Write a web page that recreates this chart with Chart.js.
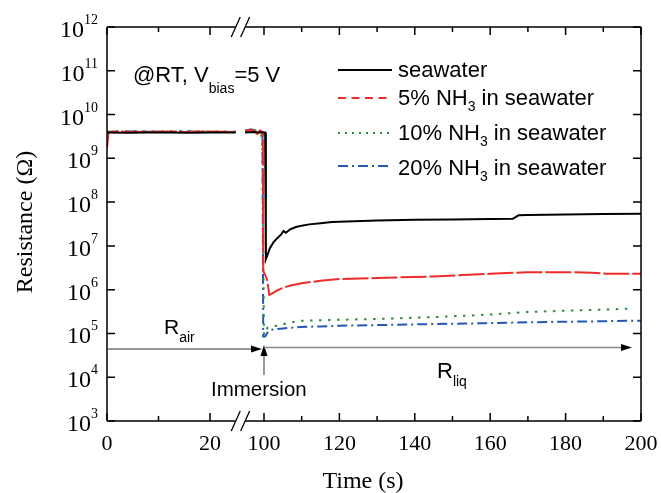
<!DOCTYPE html>
<html><head><meta charset="utf-8">
<script src="https://cdn.jsdelivr.net/npm/chart.js@4.4.0/dist/chart.umd.min.js"></script>
<style>html,body{margin:0;padding:0;background:#fff;}#wrap{width:661px;height:493px;}</style>
</head><body><div id="wrap"><canvas id="c" width="661" height="493"></canvas></div>
<script>
// ---------- data (time in s, resistance in ohm) ----------
const seawaterT = [0, 4, 8, 12, 16, 20, 25, 95, 97, 99, 100.3, 100.5, 101, 101.6, 102.5, 103.5, 104.5, 105.2, 105.8, 107, 108.5, 110, 112, 115, 118, 122, 130, 140, 150, 160, 166, 167.5, 170, 180, 190, 200];
const seawaterR = [3.9e9, 3.85e9, 3.9e9, 3.9e9, 3.85e9, 3.9e9, 3.9e9, 3.9e9, 4.0e9, 3.9e9, 3.9e9, 5e6, 6.5e6, 9e6, 1.2e7, 1.5e7, 1.8e7, 2.2e7, 2.0e7, 2.4e7, 2.7e7, 2.9e7, 3.1e7, 3.3e7, 3.5e7, 3.6e7, 3.8e7, 3.95e7, 4.0e7, 4.1e7, 4.15e7, 5.0e7, 5.1e7, 5.2e7, 5.35e7, 5.4e7];
const nh3_5T = [0, 0.3, 1, 5, 10, 15, 20, 25, 95, 96.5, 97.5, 98.2, 99, 99.7, 99.8, 100.3, 100.9, 101.4, 102, 103.4, 105, 107, 110, 115, 120, 130, 145, 160, 170, 180, 187, 191, 200];
const nh3_5R = [1.7e9, 3.9e9, 4.1e9, 4.0e9, 4.1e9, 4.0e9, 4.1e9, 4.0e9, 4.2e9, 4.5e9, 4.2e9, 3.6e9, 4.3e9, 4.0e9, 2.6e6, 2.2e6, 1.6e6, 7.6e5, 8e5, 9.5e5, 1.1e6, 1.25e6, 1.4e6, 1.6e6, 1.75e6, 1.85e6, 2.0e6, 2.3e6, 2.5e6, 2.5e6, 2.45e6, 2.3e6, 2.3e6];
const nh3_10T = [0, 5, 10, 15, 20, 25, 95, 97, 98.5, 99.2, 99.5, 99.7, 100, 100.4, 101, 102, 103.5, 106, 109.6, 115, 120, 130, 145, 160, 170, 180, 190, 197.5];
const nh3_10R = [4.1e9, 4.2e9, 4.1e9, 4.2e9, 4.1e9, 4.1e9, 4.3e9, 4.5e9, 4.2e9, 3.8e9, 2.5e9, 1e8, 9.3e4, 1.2e5, 1.35e5, 1.45e5, 1.5e5, 1.7e5, 1.95e5, 2.0e5, 2.05e5, 2.15e5, 2.36e5, 2.7e5, 3.1e5, 3.3e5, 3.5e5, 3.7e5];
const nh3_20T = [0, 5, 10, 15, 20, 25, 95, 96.5, 98, 99.3, 99.6, 99.8, 100.3, 101, 101.7, 103, 105, 109.6, 115, 120, 130, 145, 160, 170, 180, 190, 200];
const nh3_20R = [4.0e9, 4.1e9, 4.0e9, 4.1e9, 4.0e9, 4.0e9, 4.2e9, 4.6e9, 4.3e9, 4.2e9, 4.0e9, 8.5e4, 8.5e4, 1.05e5, 1.2e5, 1.25e5, 1.3e5, 1.4e5, 1.45e5, 1.5e5, 1.55e5, 1.64e5, 1.72e5, 1.8e5, 1.85e5, 1.9e5, 1.96e5];

const seriesLabels = ['seawater', '5% NH', '10% NH', '20% NH'];
const xMajorTicks = [0, 20, 100, 120, 140, 160, 180, 200];
const xMinorTicks = [10, 110, 130, 150, 170, 190];
const yDecades = [3, 4, 5, 6, 7, 8, 9, 10, 11, 12];

// ---------- broken x axis: 0–25 | 95–200 ----------
const LEFT_END = 25, RIGHT_START = 95;
const LEFT_STRETCH = 1.366;      // left segment is drawn wider per second
const RIGHT_OFFSET = 41.64;      // virtual position of t = 100
function xv(t) { return t <= 50 ? t * LEFT_STRETCH : RIGHT_OFFSET + (t - 100); }

function build(T, R) {
  const pts = [];
  for (let i = 0; i < T.length; i++) {
    if (i > 0 && T[i - 1] <= LEFT_END && T[i] >= RIGHT_START) pts.push({x: xv(T[i - 1]) + 0.01, y: null});
    pts.push({x: xv(T[i]), y: R[i]});
  }
  return pts;
}

const colors = ['#000000', '#ef2b2b', '#2f8b3f', '#2357b9'];
const legendDashes = [[], [8, 5.5], [2, 5], [10, 4, 2, 4]];
const dataDashes = [[], [26, 3], [2.5, 6.5], [10, 4, 2, 4]];
const seriesData = [[seawaterT, seawaterR], [nh3_5T, nh3_5R], [nh3_10T, nh3_10R], [nh3_20T, nh3_20R]];

const SANS = '"Liberation Sans", Arial, sans-serif';
const SERIF = '"Liberation Serif", "Times New Roman", serif';

function rich(ctx, parts, x, y) {
  let cx = x;
  for (const p of parts) {
    ctx.font = p.f;
    ctx.fillText(p.t, cx, y + (p.dy || 0));
    cx += ctx.measureText(p.t).width;
  }
}

function arrowHead(ctx, tx, ty, dir) {
  ctx.beginPath();
  if (dir === 'right') { ctx.moveTo(tx, ty); ctx.lineTo(tx - 11, ty - 3.5); ctx.lineTo(tx - 11, ty + 3.5); }
  else { ctx.moveTo(tx, ty); ctx.lineTo(tx - 3.5, ty + 11); ctx.lineTo(tx + 3.5, ty + 11); }
  ctx.closePath(); ctx.fill();
}

const deco = {
  id: 'deco',
  afterDraw(chart) {
    const {ctx, chartArea: a, scales: {x, y}} = chart;
    const px = t => x.getPixelForValue(xv(t));
    const py = e => y.getPixelForValue(Math.pow(10, e));
    const bL = px(LEFT_END), bR = px(RIGHT_START);
    ctx.save();
    ctx.strokeStyle = '#000'; ctx.fillStyle = '#000'; ctx.lineWidth = 1.5; ctx.setLineDash([]);
    // frame with gap
    ctx.beginPath();
    for (const yy of [a.top, a.bottom]) {
      ctx.moveTo(a.left, yy); ctx.lineTo(bL, yy);
      ctx.moveTo(bR, yy); ctx.lineTo(a.right, yy);
    }
    ctx.moveTo(a.left, a.top); ctx.lineTo(a.left, a.bottom);
    ctx.moveTo(a.right, a.top); ctx.lineTo(a.right, a.bottom);
    ctx.stroke();
    // break marks
    ctx.lineWidth = 1.3;
    ctx.beginPath();
    for (const yy of [a.top, a.bottom]) for (const cx of [bL, bR]) {
      ctx.moveTo(cx - 4.5, yy + 10); ctx.lineTo(cx + 4.5, yy - 10);
    }
    ctx.stroke();
    // ticks
    ctx.lineWidth = 1.5;
    ctx.beginPath();
    for (const t of xMajorTicks) { const p = px(t);
      ctx.moveTo(p, a.bottom); ctx.lineTo(p, a.bottom - 8);
      ctx.moveTo(p, a.top); ctx.lineTo(p, a.top + 8); }
    for (const t of xMinorTicks) { const p = px(t);
      ctx.moveTo(p, a.bottom); ctx.lineTo(p, a.bottom - 5);
      ctx.moveTo(p, a.top); ctx.lineTo(p, a.top + 5); }
    for (const e of yDecades) { const p = py(e);
      ctx.moveTo(a.left, p); ctx.lineTo(a.left + 8, p);
      ctx.moveTo(a.right, p); ctx.lineTo(a.right - 8, p); }
    ctx.stroke();
    // x tick labels
    ctx.textBaseline = 'alphabetic';
    ctx.font = '22px ' + SERIF; ctx.textAlign = 'center';
    for (const t of xMajorTicks) ctx.fillText(String(t), px(t), a.bottom + 29);
    // y tick labels 10^n
    ctx.textAlign = 'left';
    for (const e of yDecades) {
      const p = py(e);
      ctx.font = '24px ' + SERIF; const w1 = ctx.measureText('10').width;
      ctx.font = '14px ' + SERIF; const w2 = ctx.measureText(String(e)).width;
      const x0 = a.left - 9 - w1 - w2;
      ctx.font = '24px ' + SERIF; ctx.fillText('10', x0, p + 10);
      ctx.font = '14px ' + SERIF; ctx.fillText(String(e), x0 + w1, p - 3);
    }
    // axis titles
    ctx.font = '24px ' + SERIF; ctx.textAlign = 'center';
    ctx.fillText('Time (s)', 363, 488);
    ctx.save(); ctx.translate(32, 222); ctx.rotate(-Math.PI / 2);
    ctx.fillText('Resistance (\u03A9)', 0, 0); ctx.restore();
    // condition text
    ctx.textAlign = 'left';
    rich(ctx, [{t: '@RT, V', f: '22px ' + SANS}, {t: 'bias', f: '14px ' + SANS, dy: 11}, {t: '=5 V', f: '22px ' + SANS}], 133, 82);
    // legend
    const legY = [70, 98, 133, 166], legB = [77, 105, 140, 175];
    for (let i = 0; i < 4; i++) {
      ctx.strokeStyle = colors[i]; ctx.lineWidth = 2; ctx.setLineDash(legendDashes[i]);
      ctx.beginPath(); ctx.moveTo(338, legY[i]); ctx.lineTo(392, legY[i]); ctx.stroke();
      ctx.setLineDash([]);
      ctx.fillStyle = '#000';
      if (i === 0) rich(ctx, [{t: seriesLabels[0], f: '22px ' + SANS}], 398, legB[i]);
      else rich(ctx, [{t: seriesLabels[i], f: '22px ' + SANS}, {t: '3', f: '14px ' + SANS, dy: 6}, {t: ' in seawater', f: '22px ' + SANS}], 398, legB[i]);
    }
    // arrows
    const p100 = px(100);
    ctx.lineWidth = 1; ctx.strokeStyle = '#333'; ctx.fillStyle = '#000';
    ctx.beginPath(); ctx.moveTo(a.left, 349); ctx.lineTo(p100 - 6, 349); ctx.stroke();
    arrowHead(ctx, p100 - 2, 349, 'right');
    ctx.beginPath(); ctx.moveTo(p100, 375); ctx.lineTo(p100, 352); ctx.stroke();
    arrowHead(ctx, p100, 345, 'up');
    ctx.strokeStyle = '#8a8a8a'; ctx.lineWidth = 1.5;
    ctx.beginPath(); ctx.moveTo(p100, 347.5); ctx.lineTo(625, 347.5); ctx.stroke();
    arrowHead(ctx, 632, 347.5, 'right');
    // annotation texts
    ctx.fillStyle = '#000';
    rich(ctx, [{t: 'R', f: '21px ' + SANS}, {t: 'air', f: '14px ' + SANS, dy: 8}], 164, 334);
    rich(ctx, [{t: 'Immersion', f: '20.5px ' + SANS}], 211, 396);
    rich(ctx, [{t: 'R', f: '22px ' + SANS}, {t: 'liq', f: '14px ' + SANS, dy: 8}], 437, 378);
    ctx.restore();
  }
};

new Chart(document.getElementById('c'), {
  type: 'line',
  data: {
    datasets: seriesData.map((s, i) => ({
      label: seriesLabels[i],
      data: build(s[0], s[1]),
      borderColor: colors[i],
      borderWidth: 2,
      borderDash: dataDashes[i],
      pointRadius: 0,
      tension: 0,
      fill: false,
      spanGaps: false
    }))
  },
  options: {
    responsive: false,
    animation: false,
    layout: {padding: {left: 107, top: 27, right: 20, bottom: 72}},
    plugins: {legend: {display: false}, tooltip: {enabled: false}},
    scales: {
      x: {type: 'linear', min: 0, max: xv(200), display: false},
      y: {type: 'logarithmic', min: 1e3, max: 1e12, display: false}
    }
  },
  plugins: [deco]
});
</script>
</body></html>
